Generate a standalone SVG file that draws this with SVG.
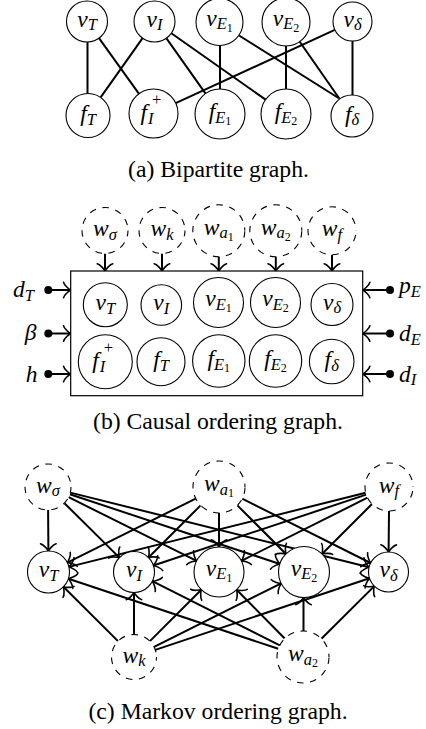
<svg xmlns="http://www.w3.org/2000/svg" width="426" height="729" viewBox="0 0 426 729">
<defs>
<style>
.n{fill:#fff;stroke:#000;stroke-width:1.1}
.d{fill:#fff;stroke:#000;stroke-width:1.1;stroke-dasharray:6.6 6.6}
.e{stroke:#000;stroke-width:2;fill:none}
.a{marker-end:url(#to)}
.ad{marker-start:url(#dot);marker-end:url(#to)}
.m{font-family:"Liberation Serif","DejaVu Serif",serif;font-style:italic;font-size:23.5px;fill:#000}
.c{text-anchor:middle}
.s{font-size:16.5px}
.ss{font-size:12px;font-style:normal}
.up{font-style:normal}
.cap{font-family:"Liberation Serif","DejaVu Serif",serif;font-size:23.7px;text-anchor:middle;fill:#000}
</style>
<marker id="to" viewBox="-8 -9 12 18" markerWidth="12" markerHeight="18" refX="1.3" refY="0" orient="auto" markerUnits="userSpaceOnUse" overflow="visible">
<path d="M-5.9,7.8 C-5.4,4.9 0,0.5 1.45,0 C0,-0.5 -5.4,-4.9 -5.9,-7.8" fill="none" stroke="#000" stroke-width="1.6" stroke-linecap="round" stroke-linejoin="round"/>
</marker>
<marker id="dot" viewBox="-5 -5 10 10" markerWidth="10" markerHeight="10" refX="0" refY="0" markerUnits="userSpaceOnUse" overflow="visible">
<circle r="4" fill="#000"/>
</marker>
</defs>
<rect width="426" height="729" fill="#fff"/>

<!-- (a) Bipartite graph -->
<g id="a-edges" class="e">
<line x1="87.5" y1="42" x2="87.5" y2="93.5"/>
<line x1="99" y1="38.1" x2="139.2" y2="94.1"/>
<line x1="142.6" y1="38.2" x2="100.8" y2="97.1"/>
<line x1="166.3" y1="38.2" x2="205.6" y2="93.6"/>
<line x1="171.3" y1="33.3" x2="265.6" y2="99.6"/>
<line x1="220" y1="45.5" x2="220" y2="89"/>
<line x1="239" y1="35.5" x2="338.5" y2="98"/>
<line x1="286" y1="46" x2="286" y2="89"/>
<line x1="299.4" y1="41.3" x2="339.5" y2="98.8"/>
<line x1="335.3" y1="29.7" x2="175.7" y2="103.2"/>
<line x1="352.5" y1="41" x2="352.5" y2="95"/>
</g>
<g id="a-vT"><circle class="n" cx="87" cy="21.5" r="20.5"/><text class="m c" x="87" y="26.5">v<tspan class="s" dy="3.6">T</tspan></text></g>
<g id="a-vI"><circle class="n" cx="154.5" cy="21.5" r="20.5"/><text class="m c" x="154.5" y="26.5">v<tspan class="s" dy="3.6">I</tspan></text></g>
<g id="a-vE1"><circle class="n" cx="219.5" cy="22" r="23.5"/><text class="m c" x="219.5" y="25.5">v<tspan class="s" dy="3.6">E</tspan><tspan class="ss" dy="2.5">1</tspan></text></g>
<g id="a-vE2"><circle class="n" cx="286" cy="22" r="24"/><text class="m c" x="286" y="25.5">v<tspan class="s" dy="3.6">E</tspan><tspan class="ss" dy="2.5">2</tspan></text></g>
<g id="a-vd"><circle class="n" cx="352.5" cy="21.5" r="19.5"/><text class="m c" x="352.5" y="26.5">v<tspan class="s" dy="3.6">δ</tspan></text></g>
<g id="a-fT"><circle class="n" cx="88" cy="115.5" r="22"/><text class="m c" x="88" y="121">f<tspan class="s" dy="3.6">T</tspan></text></g>
<g id="a-fIp"><circle class="n" cx="153.5" cy="113.5" r="24.5"/><text class="m" x="140.5" y="119.5">f</text><text class="m s up" x="152" y="105">+</text><text class="m s" x="148" y="124">I</text></g>
<g id="a-fE1"><circle class="n" cx="220" cy="114" r="25"/><text class="m c" x="220" y="119">f<tspan class="s" dy="3.6">E</tspan><tspan class="ss" dy="2.5">1</tspan></text></g>
<g id="a-fE2"><circle class="n" cx="286" cy="114" r="25"/><text class="m c" x="286" y="119">f<tspan class="s" dy="3.6">E</tspan><tspan class="ss" dy="2.5">2</tspan></text></g>
<g id="a-fd"><circle class="n" cx="352" cy="116" r="21"/><text class="m c" x="352" y="121.5">f<tspan class="s" dy="3.6">δ</tspan></text></g>
<text class="cap" x="218.5" y="177">(a) Bipartite graph.</text>

<!-- (b) Causal ordering graph -->
<g id="b-edges" class="e">
<line class="a" x1="105" y1="253.5" x2="105" y2="271"/>
<line class="a" x1="162" y1="253.5" x2="162" y2="271"/>
<line class="a" x1="218.8" y1="256.8" x2="218.8" y2="271"/>
<line class="a" x1="275.8" y1="256.8" x2="275.8" y2="271"/>
<line class="a" x1="332" y1="254.8" x2="332" y2="271"/>
<line class="ad" x1="48.3" y1="290" x2="70.7" y2="290"/>
<line class="ad" x1="48.3" y1="333.5" x2="70.7" y2="333.5"/>
<line class="ad" x1="48.3" y1="374" x2="70.7" y2="374"/>
<line class="ad" x1="390" y1="290" x2="362.7" y2="290"/>
<line class="ad" x1="390" y1="333.5" x2="362.7" y2="333.5"/>
<line class="ad" x1="390" y1="374" x2="362.7" y2="374"/>
</g>
<g id="b-box"><rect x="70.7" y="271" width="292" height="124.7" fill="#fff" stroke="#000" stroke-width="1.2"/></g>
<g id="b-ws"><circle class="d" style="stroke-dashoffset:0.52" cx="105" cy="230.5" r="23"/><text class="m c" x="105" y="236">w<tspan class="s" dy="3.6">σ</tspan></text></g>
<g id="b-wk"><circle class="d" style="stroke-dashoffset:0.52" cx="162" cy="230.5" r="23"/><text class="m c" x="162" y="236">w<tspan class="s" dy="3.6">k</tspan></text></g>
<g id="b-wa1"><circle class="d" style="stroke-dashoffset:12.78" cx="218.8" cy="230.8" r="26"/><text class="m c" x="218.8" y="234.5">w<tspan class="s" dy="3.6">a</tspan><tspan class="ss" dy="2.5">1</tspan></text></g>
<g id="b-wa2"><circle class="d" style="stroke-dashoffset:12.78" cx="275.8" cy="230.8" r="26"/><text class="m c" x="275.8" y="234.5">w<tspan class="s" dy="3.6">a</tspan><tspan class="ss" dy="2.5">2</tspan></text></g>
<g id="b-wf"><circle class="d" style="stroke-dashoffset:9" cx="332" cy="230.8" r="24"/><text class="m c" x="332" y="236">w<tspan class="s" dy="3.6">f</tspan></text></g>
<g id="b-vT"><circle class="n" cx="105.3" cy="304.7" r="22"/><text class="m c" x="105.3" y="310">v<tspan class="s" dy="3.6">T</tspan></text></g>
<g id="b-vI"><circle class="n" cx="161.3" cy="305" r="20.3"/><text class="m c" x="161.3" y="310">v<tspan class="s" dy="3.6">I</tspan></text></g>
<g id="b-vE1"><circle class="n" cx="218.5" cy="302.5" r="25"/><text class="m c" x="218.5" y="306">v<tspan class="s" dy="3.6">E</tspan><tspan class="ss" dy="2.5">1</tspan></text></g>
<g id="b-vE2"><circle class="n" cx="275.5" cy="302.5" r="25"/><text class="m c" x="275.5" y="306">v<tspan class="s" dy="3.6">E</tspan><tspan class="ss" dy="2.5">2</tspan></text></g>
<g id="b-vd"><circle class="n" cx="332" cy="304.5" r="21"/><text class="m c" x="332" y="309.5">v<tspan class="s" dy="3.6">δ</tspan></text></g>
<g id="b-fIp"><circle class="n" cx="105.3" cy="361.7" r="27"/><text class="m" x="92.3" y="367.7">f</text><text class="m s up" x="103.8" y="353.2">+</text><text class="m s" x="99.8" y="372.2">I</text></g>
<g id="b-fT"><circle class="n" cx="161" cy="361.7" r="24"/><text class="m c" x="161" y="367">f<tspan class="s" dy="3.6">T</tspan></text></g>
<g id="b-fE1"><circle class="n" cx="218.8" cy="361" r="26.2"/><text class="m c" x="218.8" y="366">f<tspan class="s" dy="3.6">E</tspan><tspan class="ss" dy="2.5">1</tspan></text></g>
<g id="b-fE2"><circle class="n" cx="275.5" cy="361" r="26.2"/><text class="m c" x="275.5" y="366">f<tspan class="s" dy="3.6">E</tspan><tspan class="ss" dy="2.5">2</tspan></text></g>
<g id="b-fd"><circle class="n" cx="331.7" cy="361.5" r="22.3"/><text class="m c" x="331.7" y="367">f<tspan class="s" dy="3.6">δ</tspan></text></g>
<g id="b-dT"><text class="m" x="34" y="297" text-anchor="end">d<tspan class="s" dy="3.6">T</tspan></text></g>
<g id="b-beta"><text class="m" x="36.5" y="339.5" text-anchor="end">β</text></g>
<g id="b-h"><text class="m" x="37.5" y="381.5" text-anchor="end">h</text></g>
<g id="b-pE"><text class="m" x="399" y="293">p<tspan class="s" dy="3.6">E</tspan></text></g>
<g id="b-dE"><text class="m" x="399" y="341">d<tspan class="s" dy="3.6">E</tspan></text></g>
<g id="b-dI"><text class="m" x="399" y="381.5">d<tspan class="s" dy="3.6">I</tspan></text></g>
<text class="cap" x="218" y="429">(b) Causal ordering graph.</text>

<!-- (c) Markov ordering graph -->
<g id="c-edges" class="e">
<line class="a" x1="48.1" y1="510" x2="48.4" y2="551"/>
<line class="a" x1="64.4" y1="503.2" x2="119.4" y2="557.6"/>
<line class="a" x1="68.6" y1="497.2" x2="196.6" y2="560.9"/>
<line class="a" x1="69.8" y1="494.2" x2="279.8" y2="564"/>
<line class="a" x1="70.3" y1="492.6" x2="369.1" y2="567.2"/>
<line class="a" x1="195.7" y1="498.6" x2="67.3" y2="562.6"/>
<line class="a" x1="200.6" y1="505.4" x2="148.5" y2="557.5"/>
<line class="a" x1="219" y1="513" x2="219" y2="547"/>
<line class="a" x1="237.4" y1="505.4" x2="286" y2="554"/>
<line class="a" x1="242.2" y1="498.7" x2="370.6" y2="563"/>
<line class="a" x1="365.7" y1="492.8" x2="68.9" y2="566.9"/>
<line class="a" x1="366.2" y1="494.6" x2="153.4" y2="565.5"/>
<line class="a" x1="367.5" y1="497.7" x2="241.4" y2="560.8"/>
<line class="a" x1="372" y1="504" x2="322" y2="554"/>
<line class="a" x1="389" y1="511" x2="388.6" y2="552"/>
<line class="a" x1="118" y1="641.1" x2="63.4" y2="586.8"/>
<line class="a" x1="134" y1="634.5" x2="134" y2="592.5"/>
<line class="a" x1="149.9" y1="641.1" x2="201.3" y2="589.7"/>
<line class="a" x1="154.1" y1="646.9" x2="281.2" y2="583.4"/>
<line class="a" x1="155.3" y1="649.9" x2="369.5" y2="578.3"/>
<line class="a" x1="278.3" y1="648.8" x2="68.4" y2="578.7"/>
<line class="a" x1="279.8" y1="645.3" x2="152.3" y2="581.2"/>
<line class="a" x1="284.7" y1="638.5" x2="236.6" y2="589.8"/>
<line class="a" x1="303.5" y1="631" x2="303.5" y2="597.5"/>
<line class="a" x1="321.4" y1="638.7" x2="374.3" y2="586.1"/>
</g>
<g id="c-ws"><circle class="d" style="stroke-dashoffset:0.52" cx="48" cy="487" r="23"/><text class="m c" x="48" y="492.5">w<tspan class="s" dy="3.6">σ</tspan></text></g>
<g id="c-wa1"><circle class="d" style="stroke-dashoffset:12.78" cx="219" cy="487" r="26"/><text class="m c" x="219" y="491">w<tspan class="s" dy="3.6">a</tspan><tspan class="ss" dy="2.5">1</tspan></text></g>
<g id="c-wf"><circle class="d" style="stroke-dashoffset:9" cx="389" cy="487" r="24"/><text class="m c" x="389" y="492.5">w<tspan class="s" dy="3.6">f</tspan></text></g>
<g id="c-vT"><circle class="n" cx="48.5" cy="572" r="21"/><text class="m c" x="48.5" y="577">v<tspan class="s" dy="3.6">T</tspan></text></g>
<g id="c-vI"><circle class="n" cx="134" cy="572" r="20.5"/><text class="m c" x="134" y="577">v<tspan class="s" dy="3.6">I</tspan></text></g>
<g id="c-vE1"><circle class="n" cx="219" cy="572" r="25"/><text class="m c" x="219" y="575.5">v<tspan class="s" dy="3.6">E</tspan><tspan class="ss" dy="2.5">1</tspan></text></g>
<g id="c-vE2"><circle class="n" cx="304" cy="572" r="25.5"/><text class="m c" x="304" y="575.5">v<tspan class="s" dy="3.6">E</tspan><tspan class="ss" dy="2.5">2</tspan></text></g>
<g id="c-vd"><circle class="n" cx="388.5" cy="572" r="20"/><text class="m c" x="388.5" y="577">v<tspan class="s" dy="3.6">δ</tspan></text></g>
<g id="c-wk"><circle class="d" style="stroke-dashoffset:2.87" cx="134" cy="657" r="22.5"/><text class="m c" x="134" y="662.5">w<tspan class="s" dy="3.6">k</tspan></text></g>
<g id="c-wa2"><circle class="d" style="stroke-dashoffset:12.78" cx="303" cy="657" r="26"/><text class="m c" x="303" y="661">w<tspan class="s" dy="3.6">a</tspan><tspan class="ss" dy="2.5">2</tspan></text></g>
<text class="cap" x="218" y="719">(c) Markov ordering graph.</text>
</svg>
